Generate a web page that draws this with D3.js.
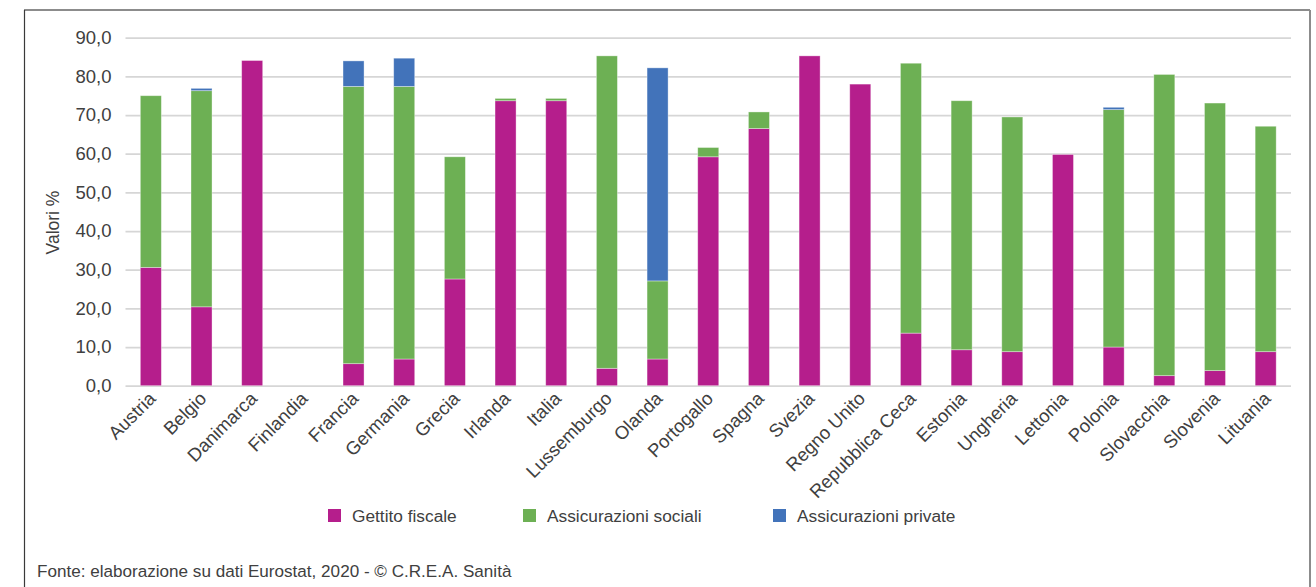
<!DOCTYPE html>
<html>
<head>
<meta charset="utf-8">
<script src="https://cdn.jsdelivr.net/npm/d3@7/dist/d3.min.js"></script>
<style>
  html, body { margin: 0; padding: 0; background: #fff; }
  svg { display: block; }
  text { font-family: "Liberation Sans", Arial, sans-serif; fill: #404040; }
</style>
</head>
<body>
<svg id="chart" width="1316" height="587"></svg>
<script>
// Financing of health expenditure by source, % of total
const categories = ["Austria", "Belgio", "Danimarca", "Finlandia", "Francia", "Germania", "Grecia",
  "Irlanda", "Italia", "Lussemburgo", "Olanda", "Portogallo", "Spagna", "Svezia", "Regno Unito",
  "Repubblica Ceca", "Estonia", "Ungheria", "Lettonia", "Polonia", "Slovacchia", "Slovenia", "Lituania"];

const gettitoFiscale = [30.6, 20.4, 84.1, 0, 5.7, 6.9, 27.6, 73.7, 73.7, 4.5, 6.9, 59.2, 66.5,
  85.3, 78.0, 13.6, 9.3, 8.8, 59.8, 10.0, 2.6, 3.9, 8.8];
const assicurazioniSociali = [44.4, 55.9, 0, 0, 71.7, 70.5, 31.6, 0.6, 0.6, 80.8, 20.2, 2.4, 4.3,
  0, 0, 69.8, 64.4, 60.7, 0, 61.4, 77.9, 69.2, 58.3];
const assicurazioniPrivate = [0, 0.6, 0, 0, 6.6, 7.3, 0, 0, 0, 0, 55.1, 0, 0,
  0, 0, 0, 0, 0, 0, 0.6, 0, 0, 0];

const seriesNames = ["Gettito fiscale", "Assicurazioni sociali", "Assicurazioni private"];
const seriesColors = ["#B51E8C", "#6DB054", "#4273BA"];
const yTicks = [0, 10, 20, 30, 40, 50, 60, 70, 80, 90];
const yTitle = "Valori %";
const sourceNote = "Fonte: elaborazione su dati Eurostat, 2020 - \u00A9 C.R.E.A. Sanit\u00E0";

const svg = d3.select("#chart");
const W = 1316, H = 587;
const plot = { left: 125.5, right: 1291, top: 37.7, bottom: 385.7 };

// frame
svg.append("line").attr("x1", 24).attr("x2", 1310).attr("y1", 10).attr("y2", 10)
  .attr("stroke", "#8c8c8c").attr("stroke-width", 2);
svg.append("line").attr("x1", 24.5).attr("x2", 24.5).attr("y1", 10).attr("y2", H)
  .attr("stroke", "#3a3a3a").attr("stroke-width", 1.2);
svg.append("line").attr("x1", 1310).attr("x2", 1310).attr("y1", 10).attr("y2", H)
  .attr("stroke", "#8c8c8c").attr("stroke-width", 2);

const rows = categories.map((c, i) => ({
  cat: c,
  [seriesNames[0]]: gettitoFiscale[i],
  [seriesNames[1]]: assicurazioniSociali[i],
  [seriesNames[2]]: assicurazioniPrivate[i]
}));

const x = d3.scaleBand().domain(categories).range([plot.left, plot.right])
  .paddingInner(0.585).paddingOuter(0.2925);
const y = d3.scaleLinear().domain([0, 90]).range([plot.bottom, plot.top]);

const locale = d3.formatLocale({ decimal: ",", thousands: ".", grouping: [3], currency: ["", "\u00A0€"] });
const fmt = locale.format(".1f");

// y axis with gridlines
const yAxis = svg.append("g").attr("transform", `translate(${plot.left},0)`)
  .call(d3.axisLeft(y).tickValues(yTicks).tickFormat(fmt)
    .tickSize(-(plot.right - plot.left)).tickPadding(14));
yAxis.select(".domain").remove();
yAxis.selectAll(".tick line").attr("stroke", "#d6d6d6").attr("stroke-width", 1.8);
yAxis.selectAll(".tick text").attr("font-size", 18.5).attr("fill", "#404040")
  .attr("font-family", "Liberation Sans, Arial, sans-serif");

// y title
svg.append("text").attr("transform", `translate(59,${(190 + 255) / 2}) rotate(-90)`)
  .attr("text-anchor", "middle").attr("font-size", 17.5).text(yTitle);

// stacked bars
const stack = d3.stack().keys(seriesNames);
const layers = stack(rows);
svg.append("g").selectAll("g").data(layers).join("g")
  .attr("fill", (d, i) => seriesColors[i])
  .selectAll("rect").data(d => d.filter(s => s[1] - s[0] > 0)).join("rect")
  .attr("x", d => x(d.data.cat))
  .attr("width", x.bandwidth())
  .attr("y", d => y(d[1]))
  .attr("height", d => y(d[0]) - y(d[1]))
  .attr("stroke", "#ffffff").attr("stroke-opacity", 0.45).attr("stroke-width", 0.8);

// x axis labels
const xAxis = svg.append("g").attr("transform", `translate(0,${plot.bottom})`)
  .call(d3.axisBottom(x).tickSize(0).tickPadding(0));
xAxis.select(".domain").remove();
xAxis.selectAll(".tick text")
  .attr("font-size", 18.5).attr("fill", "#404040")
  .attr("font-family", "Liberation Sans, Arial, sans-serif")
  .attr("text-anchor", "end")
  .attr("x", 0).attr("y", 0).attr("dy", 0)
  .attr("transform", "translate(6,14) rotate(-45)");

// legend
const legendX = [328, 523, 773];
const lg = svg.append("g").selectAll("g").data(seriesNames).join("g")
  .attr("transform", (d, i) => `translate(${legendX[i]},509)`);
lg.append("rect").attr("width", 13).attr("height", 13).attr("fill", (d, i) => seriesColors[i]);
lg.append("text").attr("x", 24).attr("y", 13).attr("font-size", 17.3).text(d => d);

// source note
svg.append("text").attr("x", 37).attr("y", 577).attr("font-size", 17.1).text(sourceNote);
</script>
</body>
</html>
